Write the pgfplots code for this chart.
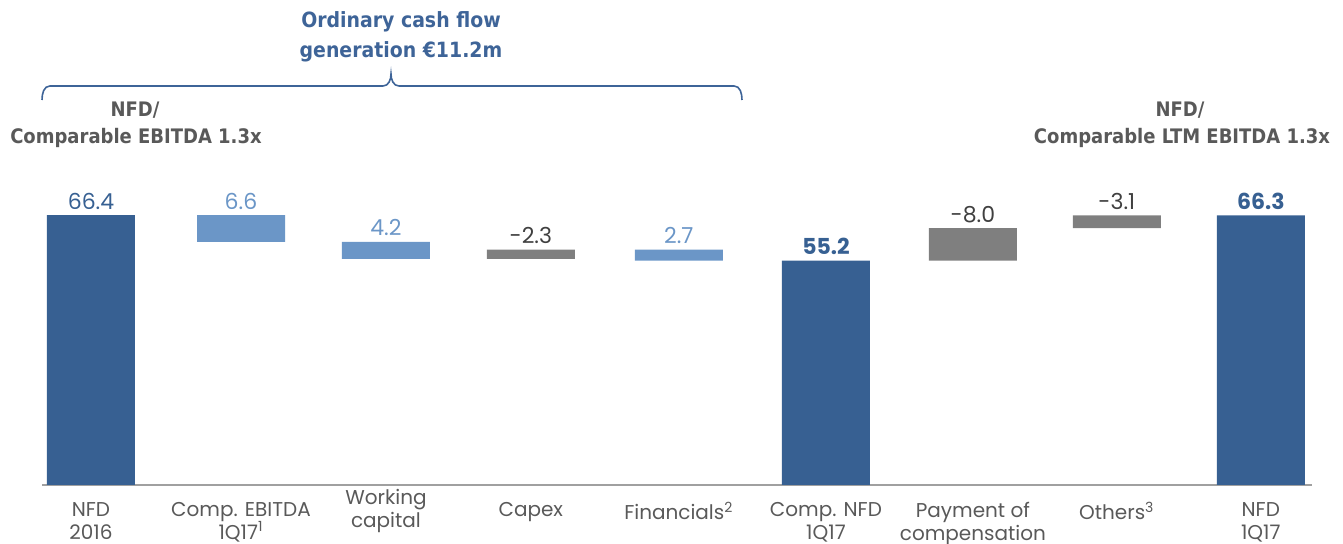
\documentclass[border=0pt]{standalone}
\usepackage{fontspec}
\setmainfont{Poppins}
\newfontfamily\hdr{DejaVu Sans Condensed}
\usepackage{pgfplots}
\pgfplotsset{compat=1.18}
\definecolor{darkblue}{RGB}{55,96,146}
\definecolor{lightblue}{RGB}{107,150,199}
\definecolor{barsgray}{RGB}{127,127,127}
\definecolor{valgray}{RGB}{64,64,64}
\definecolor{labgray}{RGB}{89,89,89}
\definecolor{axisgray}{RGB}{160,160,160}
\definecolor{titleblue}{RGB}{62,100,152}
\begin{document}
\begin{tikzpicture}
\useasboundingbox (0pt,0pt) rectangle (671.5pt,272pt);
\begin{axis}[
  at={(21pt,29.5pt)}, anchor=south west, scale only axis,
  width=635pt, height=203.3pt,
  xmin=-0.335, xmax=8.35, ymin=0, ymax=100,
  ybar stacked, bar width=44pt,
  axis x line*=bottom, axis y line=none, ytick=\empty,
  x axis line style={draw=axisgray, line width=1pt, -},
  xtick={0,1.026,2.017,3.008,4.02,5.026,6.031,7.015,8}, major tick length=0pt,
  xticklabels={NFD\\2016, Comp. EBITDA\\1Q17\textsuperscript{1}, {}, Capex, Financials\textsuperscript{2}, Comp. NFD\\1Q17, Payment of\\compensation, Others\textsuperscript{3}, NFD\\1Q17},
  xticklabel style={font=\fontsize{10}{11.5}\selectfont, text=labgray, align=center, anchor=north, yshift=-5pt},
  clip=false,
]
\addplot[draw=none, fill=none] coordinates {(0,0) (1.026,59.8) (2.017,55.6) (3.008,55.6) (4.02,55.2) (5.026,0) (6.031,55.2) (7.015,63.2) (8,0)};
\addplot[draw=none, fill=darkblue] coordinates {(0,66.4) (1.026,0) (2.017,0) (3.008,0) (4.02,0) (5.026,55.2) (6.031,0) (7.015,0) (8,66.3)};
\addplot[draw=none, fill=lightblue] coordinates {(0,0) (1.026,6.6) (2.017,4.2) (3.008,0) (4.02,2.7) (5.026,0) (6.031,0) (7.015,0) (8,0)};
\addplot[draw=none, fill=barsgray] coordinates {(0,0) (1.026,0) (2.017,0) (3.008,2.3) (4.02,0) (5.026,0) (6.031,8.0) (7.015,3.1) (8,0)};
\tikzset{vl/.style={anchor=base, yshift=3pt, font=\fontsize{11}{13}\selectfont}}
\node[vl, text=darkblue] at (axis cs:0,66.4) {66.4};
\node[vl, text=lightblue] at (axis cs:1.026,66.4) {6.6};
\node[vl, text=lightblue] at (axis cs:2.017,59.8) {4.2};
\node[vl, text=valgray] at (axis cs:3.008,57.9) {-2.3};
\node[vl, text=lightblue] at (axis cs:4.02,57.9) {2.7};
\node[vl, text=darkblue, font=\fontsize{11}{13}\selectfont\bfseries] at (axis cs:5.026,55.2) {55.2};
\node[vl, text=valgray] at (axis cs:6.031,63.2) {-8.0};
\node[vl, text=valgray] at (axis cs:7.015,66.3) {-3.1};
\node[vl, text=darkblue, font=\fontsize{11}{13}\selectfont\bfseries] at (axis cs:8,66.3) {66.3};
\node[anchor=north, yshift=1.5pt, font=\fontsize{10}{11.5}\selectfont, text=labgray, align=center] at (axis cs:2.017,0) {Working\\capital};
\end{axis}
\draw[titleblue, line width=0.8pt] (21pt,222pt) to[out=90,in=180] (25pt,229pt) -- (191.5pt,229pt) to[out=0,in=-90] (195.5pt,235pt) to[out=-90,in=180] (199.5pt,229pt) -- (367pt,229pt) to[out=0,in=90] (371pt,222pt);
\node[font=\hdr\bfseries\fontsize{10.5}{12}\selectfont, text=titleblue] at (200.5pt,261pt) {Ordinary cash flow};
\node[font=\hdr\bfseries\fontsize{10.5}{12}\selectfont, text=titleblue] at (200.5pt,246pt) {generation €11.2m};
\node[font=\hdr\bfseries\fontsize{10}{12}\selectfont, text=labgray] at (67.5pt,217pt) {NFD/};
\node[font=\hdr\bfseries\fontsize{10}{12}\selectfont, text=labgray] at (68pt,203pt) {Comparable EBITDA 1.3x};
\node[font=\hdr\bfseries\fontsize{10}{12}\selectfont, text=labgray] at (590pt,217pt) {NFD/};
\node[font=\hdr\bfseries\fontsize{10}{12}\selectfont, text=labgray] at (591pt,203pt) {Comparable LTM EBITDA 1.3x};
\end{tikzpicture}
\end{document}
